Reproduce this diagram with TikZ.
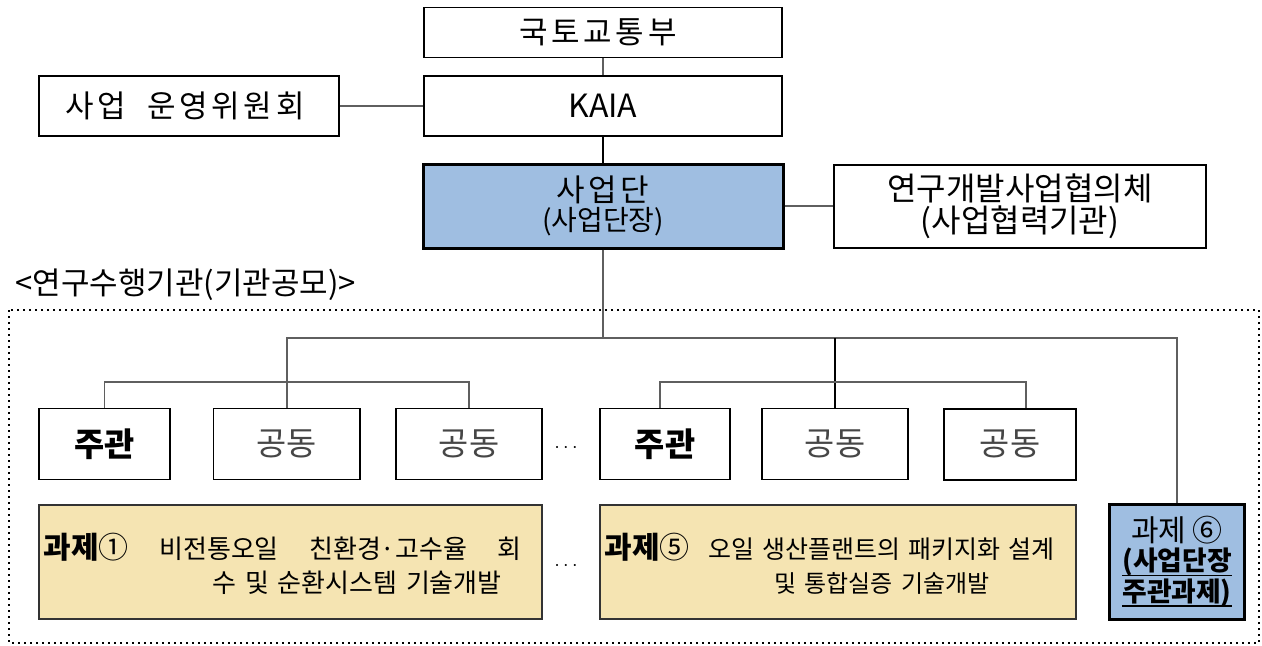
\documentclass[tikz,border=0pt]{standalone}
\usepackage{fontspec}
\setmainfont{Noto Sans CJK KR}
\newfontfamily\trackfont[LetterSpace=12]{Noto Sans CJK KR}
\usepackage{xcolor}
\usepackage{tikz}

\newcommand{\ulbox}[1]{\leavevmode\setbox0\hbox{#1}\rlap{\rule[-2.8pt]{\wd0}{0.7pt}}\box0}

\definecolor{sadanblue}{RGB}{159,190,225}
\definecolor{taskyellow}{RGB}{245,228,178}
\definecolor{linegray}{RGB}{95,95,95}
\definecolor{gdgray}{RGB}{70,70,70}

\tikzset{
	box/.style={draw, line width=0.75pt, inner sep=0pt, fill=white},
	bluebox/.style={draw, line width=1.5pt, inner sep=0pt, fill=sadanblue},
	taskbox/.style={draw=black!80, line width=0.75pt, inner sep=0pt, fill=taskyellow},
	conn/.style={draw=linegray, line width=0.75pt},
	big/.style={font=\fontsize{15.5}{19}\trackfont},
	mid/.style={font=\fontsize{16.4}{19}\selectfont},
}

\begin{document}
\begin{tikzpicture}[x=0.5pt, y=-0.5pt]
	\useasboundingbox (0,0) rectangle (1262,645);
	% top of the chart
	\node[box, big, minimum width=179pt, minimum height=25pt] (molit) at (603,32.5) {국토교통부\hspace*{5pt}};
	\node[box, font=\fontsize{16}{18}\selectfont, minimum width=179pt, minimum height=30pt] (kaia) at (603,106) {KAIA};
	\node[box, big, minimum width=150pt, minimum height=30pt] (ops) at (189,106) {\hspace*{-4pt}사업\ \ 운영위원회};
	\node[bluebox, align=center, minimum width=180pt, minimum height=42pt] (sadan) at (603,206)
		{{\fontsize{15.5}{17}\trackfont 사업단}\\[1pt]{\fontsize{14}{15}\selectfont (사업단장)}};
	\node[box, align=center, font=\fontsize{16}{16}\selectfont, minimum width=186pt, minimum height=41.5pt] (council) at (1020,206.5)
		{연구개발사업협의체\\(사업협력기관)};
	\node[font=\fontsize{15.5}{18}\selectfont, anchor=west, inner sep=0pt] (recruit) at (15,285) {<연구수행기관(기관공모)>};
	\draw[line width=1pt, dash pattern=on 1pt off 2pt] (9,310) rectangle (1259,643);

	% participating institutions
	\node[box, mid, minimum width=65.5pt, minimum height=35.5pt] (jg1) at (104.5,444) {\bfseries 주관};
	\node[box, mid, text=gdgray, minimum width=73.25pt, minimum height=35.5pt] (gd1) at (286.75,444) {공동};
	\node[box, mid, text=gdgray, minimum width=73pt, minimum height=35.5pt] (gd2) at (469,444) {공동};
	\node[box, mid, minimum width=65pt, minimum height=35.5pt] (jg2) at (665,444) {\bfseries 주관};
	\node[box, mid, text=gdgray, minimum width=73pt, minimum height=35.5pt] (gd3) at (835,444) {공동};
	\node[box, mid, text=gdgray, line width=1pt, minimum width=66pt, minimum height=35.5pt] (gd4) at (1010,444) {공동};
	\node (dots1) at (566,448) {$\cdots$};

	% tasks
	\node[taskbox, minimum width=251.5pt, minimum height=57pt] (t1) at (290.5,562) {};
	\node[font=\fontsize{13}{15}\selectfont, anchor=west, inner sep=0pt, text width=239pt, align=left] (t1txt) at ([xshift=2.5pt,yshift=-1pt]t1.west)
		{\makebox[239pt][l]{{\fontsize{15}{17}\selectfont\textbf{과제}①}\hfill 비전통오일\hfill 친환경·고수율\hfill 회}\\[2pt]
		\hspace*{84.5pt}수 및 순환시스템 기술개발};
	\node (dots2) at (566,566) {$\cdots$};
	\node[taskbox, minimum width=238pt, minimum height=57pt] (t5) at (838,562) {};
	\node[font=\fontsize{12}{15}\selectfont, anchor=west, inner sep=0pt, text width=225pt, align=left] (t5txt) at ([xshift=2.5pt,yshift=-1pt]t5.west)
		{\makebox[225pt][l]{{\fontsize{15}{17}\selectfont\textbf{과제}⑤}\hfill{\fontsize{12.5}{15}\selectfont 오일 생산플랜트의 패키지화 설계}}\\[2pt]
		\hspace*{85pt}및 통합실증 기술개발};
	\node[bluebox, align=center, font=\fontsize{13.4}{13.5}\selectfont, minimum width=67.25pt, minimum height=57.5pt] (t6) at (1177,561.5)
		{{\fontsize{15}{15}\selectfont 과제 ⑥}\\[1pt]\ulbox{\bfseries (사업단장}\\\ulbox{\bfseries 주관과제)}};

	% connectors
	\coordinate (mainbus) at (0,338);
	\coordinate (bus1) at (0,382);
	\draw[conn] (molit) -- (kaia);
	\draw[conn] (ops) -- (kaia);
	\draw[conn, draw=black] (kaia) -- (sadan);
	\draw[conn] (sadan.east) -- (sadan.east -| council.west);
	\draw[conn] (sadan.south) -- (sadan.south |- mainbus);
	\draw[conn] (gd1.north) |- (t6.north |- mainbus) -- (t6.north);
	\draw[conn, draw=black] (gd3.north) -- (gd3.north |- mainbus);
	\draw[conn] (jg1.north) |- (gd2.north |- bus1) -- (gd2.north);
	\draw[conn] ([xshift=-2.5pt]jg2.north) |- ([xshift=8pt]gd4.north |- bus1) -- ([xshift=8pt]gd4.north);
\end{tikzpicture}
\end{document}
